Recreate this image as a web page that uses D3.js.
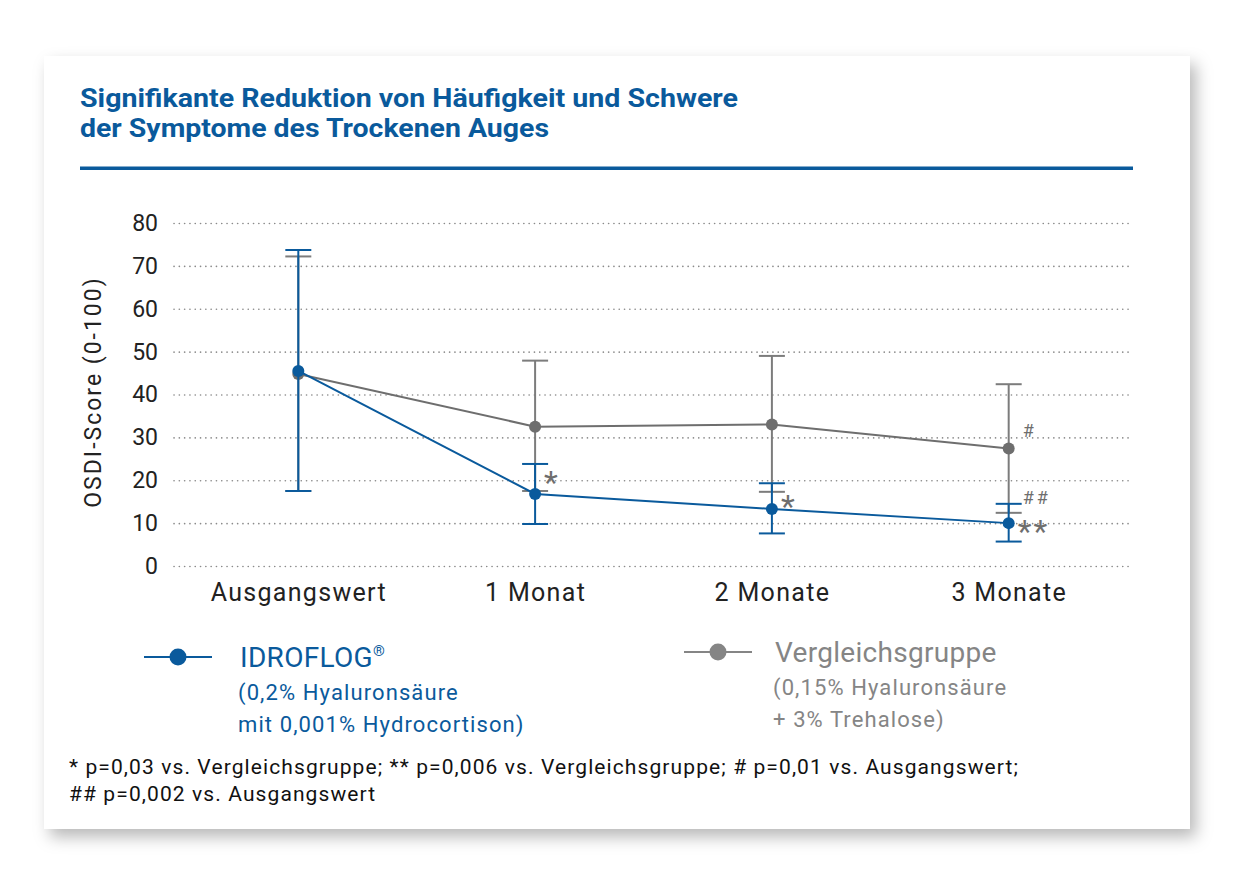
<!DOCTYPE html>
<html>
<head>
<meta charset="utf-8">
<script src="https://cdn.jsdelivr.net/npm/d3@7"></script>
<style>
  body { margin: 0; background: #fff; }
  svg { display: block; }
</style>
</head>
<body>
<div id="chart"></div>
<script>
// Data
var categories = ["Ausgangswert", "1 Monat", "2 Monate", "3 Monate"];
var idroflogMean = [45.5, 16.8, 13.3, 10.0];
var idroflogUpper = [73.7, 23.8, 19.3, 14.5];
var idroflogLower = [17.5, 9.8, 7.6, 5.7];
var vergleichMean = [44.8, 32.5, 33.0, 27.4];
var vergleichUpper = [72.2, 47.9, 49.0, 42.4];
var vergleichLower = [17.5, 17.5, 17.3, 12.4];
var yTicks = [0, 10, 20, 30, 40, 50, 60, 70, 80];

// significance marks: category index, value at the mark's centre, label
var marks = [
  { i: 1, v: 21.2, label: "*", big: true },
  { i: 2, v: 15.6, label: "*", big: true },
  { i: 3, v: 31.6, label: "#", big: false },
  { i: 3, v: 16.0, label: "##", big: false },
  { i: 3, v: 9.8, label: "**", big: true }
];

var blue = "#0a5a9c";
var gray = "#6e6e6e";
var font = "Roboto, 'Noto Sans', sans-serif";

var svgWidth = 1240;
var svgHeight = 886;

var svg = d3.select("#chart")
  .append("svg")
  .attr("width", svgWidth)
  .attr("height", svgHeight);

// Card with drop shadow
var defs = svg.append("defs");
var filter = defs.append("filter")
  .attr("id", "shadow")
  .attr("x", "-10%").attr("y", "-10%")
  .attr("width", "120%").attr("height", "120%");
filter.append("feDropShadow")
  .attr("dx", 6).attr("dy", 8)
  .attr("stdDeviation", 8)
  .attr("flood-color", "#000")
  .attr("flood-opacity", 0.28);

svg.append("rect")
  .attr("x", 44).attr("y", 56)
  .attr("width", 1146).attr("height", 773)
  .attr("fill", "#fff")
  .attr("filter", "url(#shadow)");

// Title
var title = svg.append("text")
  .attr("font-family", font)
  .attr("font-weight", 700)
  .attr("font-size", 26)
  .attr("fill", blue);
title.append("tspan").attr("x", 80).attr("y", 107)
  .attr("textLength", 658).attr("lengthAdjust", "spacingAndGlyphs")
  .text("Signifikante Reduktion von Häufigkeit und Schwere");
title.append("tspan").attr("x", 80).attr("y", 137)
  .attr("textLength", 469).attr("lengthAdjust", "spacingAndGlyphs")
  .text("der Symptome des Trockenen Auges");

svg.append("rect")
  .attr("x", 80).attr("y", 166.5)
  .attr("width", 1053).attr("height", 3.5)
  .attr("fill", blue);

// Chart area
var plotLeft = 174, plotRight = 1133, plotTop = 223, plotBottom = 566;

var x = d3.scalePoint()
  .domain(categories)
  .range([plotLeft, plotRight])
  .padding(0.525);

var y = d3.scaleLinear()
  .domain([0, 80])
  .range([plotBottom, plotTop]);

// Grid lines
var grid = svg.append("g")
  .attr("transform", `translate(${plotLeft},0)`)
  .call(d3.axisLeft(y).tickValues(yTicks).tickSize(-(plotRight - plotLeft)).tickFormat(""));
grid.select(".domain").remove();
grid.selectAll(".tick line")
  .attr("stroke", "#8a8a8a")
  .attr("stroke-width", 1.6)
  .attr("stroke-dasharray", "0.1 5.2")
  .attr("stroke-linecap", "round");

// Y tick labels
var yAxis = svg.append("g")
  .attr("transform", `translate(${plotLeft},0)`)
  .call(d3.axisLeft(y).tickValues(yTicks).tickSize(0).tickPadding(16));
yAxis.select(".domain").remove();
yAxis.selectAll("text")
  .attr("font-family", font)
  .attr("font-size", 23)
  .attr("fill", "#222");

// X tick labels
var xAxis = svg.append("g")
  .attr("transform", `translate(0,${plotBottom})`)
  .call(d3.axisBottom(x).tickSize(0).tickPadding(17));
xAxis.select(".domain").remove();
xAxis.selectAll("text")
  .attr("font-family", font)
  .attr("font-size", 25)
  .attr("letter-spacing", 1.3)
  .attr("fill", "#222");

// Y axis title
svg.append("text")
  .attr("transform", "translate(101,392) rotate(-90)")
  .attr("text-anchor", "middle")
  .attr("font-family", font)
  .attr("font-size", 23)
  .attr("letter-spacing", 2)
  .attr("fill", "#222")
  .text("OSDI-Score (0-100)");

// Series drawing
function drawSeries(mean, upper, lower, color, barColor) {
  var g = svg.append("g");
  var cap = 13;
  categories.forEach(function(c, i) {
    g.append("line")
      .attr("x1", x(c)).attr("x2", x(c))
      .attr("y1", y(upper[i])).attr("y2", y(lower[i]))
      .attr("stroke", barColor).attr("stroke-width", 2);
    [upper[i], lower[i]].forEach(function(v) {
      g.append("line")
        .attr("x1", x(c) - cap).attr("x2", x(c) + cap)
        .attr("y1", y(v)).attr("y2", y(v))
        .attr("stroke", barColor).attr("stroke-width", 2);
    });
  });
  var line = d3.line()
    .x(function(d, i) { return x(categories[i]); })
    .y(function(d) { return y(d); });
  g.append("path")
    .datum(mean)
    .attr("d", line)
    .attr("fill", "none")
    .attr("stroke", color)
    .attr("stroke-width", 2);
  g.selectAll("circle")
    .data(mean)
    .enter()
    .append("circle")
    .attr("cx", function(d, i) { return x(categories[i]); })
    .attr("cy", function(d) { return y(d); })
    .attr("r", 6)
    .attr("fill", color);
}

drawSeries(vergleichMean, vergleichUpper, vergleichLower, gray, "#7c7c7c");
drawSeries(idroflogMean, idroflogUpper, idroflogLower, blue, blue);

// Significance marks (big: asterisks, centred on the value; small: hashes)
svg.selectAll("text.mark")
  .data(marks)
  .enter()
  .append("text")
  .attr("class", "mark")
  .attr("x", function(d) { return x(categories[d.i]) + (d.big ? 9 : 14); })
  .attr("y", function(d) { return y(d.v); })
  .attr("dy", function(d) { return d.big ? "0.56em" : "0.36em"; })
  .attr("font-family", font)
  .attr("font-size", function(d) { return d.big ? 32 : 18; })
  .attr("letter-spacing", function(d) { return d.big ? 2 : 3; })
  .attr("fill", gray)
  .text(function(d) { return d.label; });

// Legend
function legendItem(x0, ly, color, textX, lines, baselines) {
  svg.append("line")
    .attr("x1", x0).attr("x2", x0 + 68)
    .attr("y1", ly).attr("y2", ly)
    .attr("stroke", color).attr("stroke-width", 2);
  svg.append("circle")
    .attr("cx", x0 + 34).attr("cy", ly)
    .attr("r", 8.5).attr("fill", color);
  lines.forEach(function(t, i) {
    var txt = svg.append("text")
      .attr("x", textX - (i ? 2 : 0)).attr("y", baselines[i])
      .attr("font-family", font)
      .attr("font-size", i ? 22 : 28)
      .attr("letter-spacing", i ? 1.1 : 0.3)
      .attr("fill", color);
    if (t.slice(-1) === "®") {
      txt.append("tspan").text(t.slice(0, -1));
      txt.append("tspan")
        .attr("font-size", 15)
        .attr("dy", -11)
        .text("®");
    } else {
      txt.text(t);
    }
  });
}

legendItem(144, 657, blue, 240,
  ["IDROFLOG®", "(0,2% Hyaluronsäure", "mit 0,001% Hydrocortison)"],
  [667, 700, 732]);
legendItem(684, 652, "#858585", 775,
  ["Vergleichsgruppe", "(0,15% Hyaluronsäure", "+ 3% Trehalose)"],
  [662, 695, 727]);

// Footnote
var foot = svg.append("text")
  .attr("font-family", font)
  .attr("font-size", 21)
  .attr("letter-spacing", 1.1)
  .attr("fill", "#111");
foot.append("tspan").attr("x", 69).attr("y", 774)
  .text("* p=0,03 vs. Vergleichsgruppe; ** p=0,006 vs. Vergleichsgruppe; # p=0,01 vs. Ausgangswert;");
foot.append("tspan").attr("x", 69).attr("y", 801)
  .text("## p=0,002 vs. Ausgangswert");
</script>
</body>
</html>
